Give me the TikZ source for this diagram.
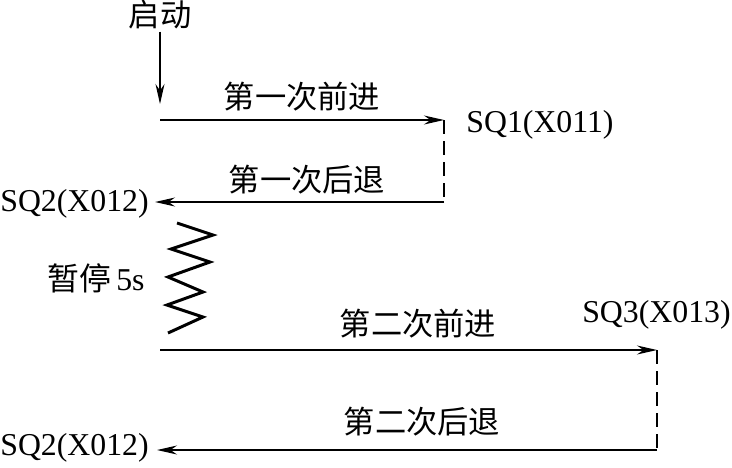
\documentclass[tikz,border=0pt]{standalone}
\usepackage{fontspec}
\setmainfont{Liberation Serif}
\newfontfamily\cjk{Noto Sans CJK SC}
\usetikzlibrary{arrows.meta,positioning,calc}

\begin{document}
\begin{tikzpicture}[
    x=0.02cm, y=-0.02cm,
    >={Stealth[length=4mm, width=1.8mm]},
    cjklabel/.style={
        inner sep=1pt,
        font=\cjk\fontsize{17.8}{20}\selectfont
    },
    switchlabel/.style={
        inner sep=0pt,
        font=\fontsize{18.1}{21}\selectfont
    },
    flowline/.style={draw=black, ->, line width=0.8pt},
    limitline/.style={draw=black, dashed, dash pattern=on 8pt off 4pt, line width=0.8pt},
    pauseline/.style={draw=black, line width=1.7pt}
]

\useasboundingbox (0,0) rectangle (732,467);

% --- COORDINATES ---

% Start signal
\node[cjklabel] (start) at (160,15) {启动};
\coordinate (start_tip) at (160,104);

% First cycle
\coordinate (fwd1_begin) at (160,120);
\coordinate (sq1_top) at (444,120);
\coordinate (sq1_bot) at (444,202);
\coordinate (ret1_tip) at (155,202);

% Second cycle
\coordinate (fwd2_begin) at (160,350);
\coordinate (sq3_top) at (657,350);
\coordinate (sq3_bot) at (657,450);
\coordinate (ret2_tip) at (157,450);

% --- LABELS ---

\node[cjklabel] (fwd1_lbl) at (302,97) {第一次前进};
\node[cjklabel] (ret1_lbl) at (307,180) {第一次后退};
\node[switchlabel, anchor=west] (sq1) at (466,125) {SQ1(X011)};
\node[switchlabel, anchor=west] (sq2_top) at (0,204) {SQ2(X012)};

\node[switchlabel] (pause) at (96,278) {{\cjk 暂停}\,5s};

\node[cjklabel] (fwd2_lbl) at (418,324) {第二次前进};
\node[cjklabel] (ret2_lbl) at (422,422) {第二次后退};
\node[switchlabel, anchor=east] (sq3) at (731,315) {SQ3(X013)};
\node[switchlabel, anchor=west] (sq2_bot) at (0,448) {SQ2(X012)};

% --- PATHS & ARROWS ---

% Start
\draw[flowline] (start.south) -- (start_tip);

% First forward and back
\draw[flowline] (fwd1_begin) -- (sq1_top);
\draw[limitline] (sq1_top) -- (sq1_bot);
\draw[flowline] (sq1_bot) -- (ret1_tip);

% Pause (zigzag)
\draw[pauseline] plot coordinates {
    (177,223) (213,235) (171,249) (210,262) (168,277)
    (203,292) (167,305) (203,317) (168,333)
};

% Second forward and back
\draw[flowline] (fwd2_begin) -- (sq3_top);
\draw[limitline] (sq3_top) -- (sq3_bot);
\draw[flowline] (sq3_bot) -- (ret2_tip);

\end{tikzpicture}
\end{document}
